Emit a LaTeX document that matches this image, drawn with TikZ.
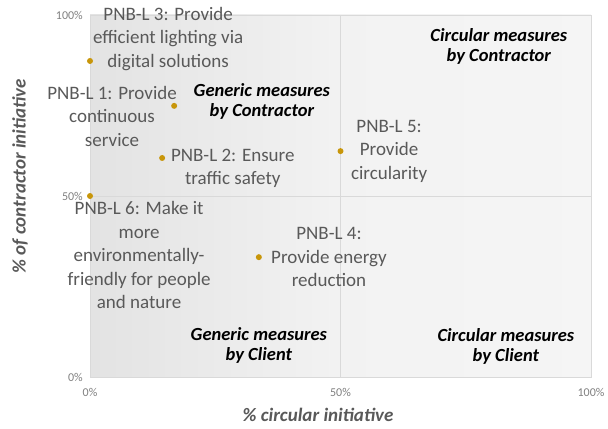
\documentclass[tikz,border=0pt]{standalone}
\usepackage{fontspec}
\setmainfont{Carlito}
\begin{document}
\tikzset{
	dot/.style={circle, fill=dotcolor, inner sep=0pt, minimum size=6bp},
	pnb/.style={text=labelgrey, align=center, inner sep=0pt, font=\fontsize{19bp}{23.5bp}\selectfont},
	quad/.style={align=center, inner sep=0pt, font=\fontsize{18.5bp}{20bp}\selectfont\bfseries\itshape},
	tick/.style={text=tickgrey, inner sep=0pt, font=\fontsize{12bp}{14bp}\selectfont},
	axis/.style={text=labelgrey, inner sep=0pt, font=\fontsize{19bp}{20bp}\selectfont\bfseries\itshape}
}
\definecolor{dotcolor}{HTML}{C8960A}
\definecolor{labelgrey}{HTML}{595959}
\definecolor{tickgrey}{HTML}{7F7F7F}
\definecolor{gridgrey}{HTML}{D9D9D9}
\begin{tikzpicture}[x=1bp, y=1bp]
\useasboundingbox (0,0) rectangle (608,428);

\begin{scope}[shift={(90,51)}, x=5.01bp, y=3.62bp]
\shade[left color=black!11, right color=black!4, middle color=black!5] (0,0) rectangle (100,100);
\draw[gridgrey] (0,0) rectangle (100,100);
\draw[gridgrey] (50,0) -- (50,100);
\draw[gridgrey] (0,50) -- (100,50);

\foreach \t in {0,50,100}{
	\node[tick, anchor=east](ty\t) at(-1.4,\t) {\t\%};
	\node[tick](tx\t) at(\t,-4.2) {\t\%};
}

\foreach \n/\x/\y in {
	3/0/87.3, 1/16.8/74.9, 2/14.4/60.5, 6/0/50, 5/50/62.4, 4/33.7/33.1%
}{
	\node[dot](p\n) at(\x,\y) {};
}

\node[pnb](l3) at(15.6,93.4) {PNB-L 3: Provide\\efficient lighting via\\digital solutions};
\node[pnb](l1) at(4.4,72.1) {PNB-L 1: Provide\\continuous\\service};
\node[pnb](l2) at(28.5,57.6) {PNB-L 2: Ensure\\traffic safety};
\node[pnb](l5) at(59.7,62.4) {PNB-L 5:\\Provide\\circularity};
\node[pnb](l6) at(9.8,33.7) {PNB-L 6: Make it\\more\\environmentally-\\friendly for people\\and nature};
\node[pnb](l4) at(47.7,33.1) {PNB-L 4:\\Provide energy\\reduction};

\node[quad](gc) at(34.3,76.2) {Generic measures\\by Contractor};
\node[quad](cc) at(81.6,91.2) {Circular measures\\by Contractor};
\node[quad](gk) at(33.7,8.6) {Generic measures\\by Client};
\node[quad](ck) at(83.0,8.3) {Circular measures\\by Client};
\end{scope}

\node[axis](xt) at(318,13) {\% circular initiative};
\node[axis, rotate=90](yt) at(20,252) {\% of contractor initiative};
\end{tikzpicture}
\end{document}
